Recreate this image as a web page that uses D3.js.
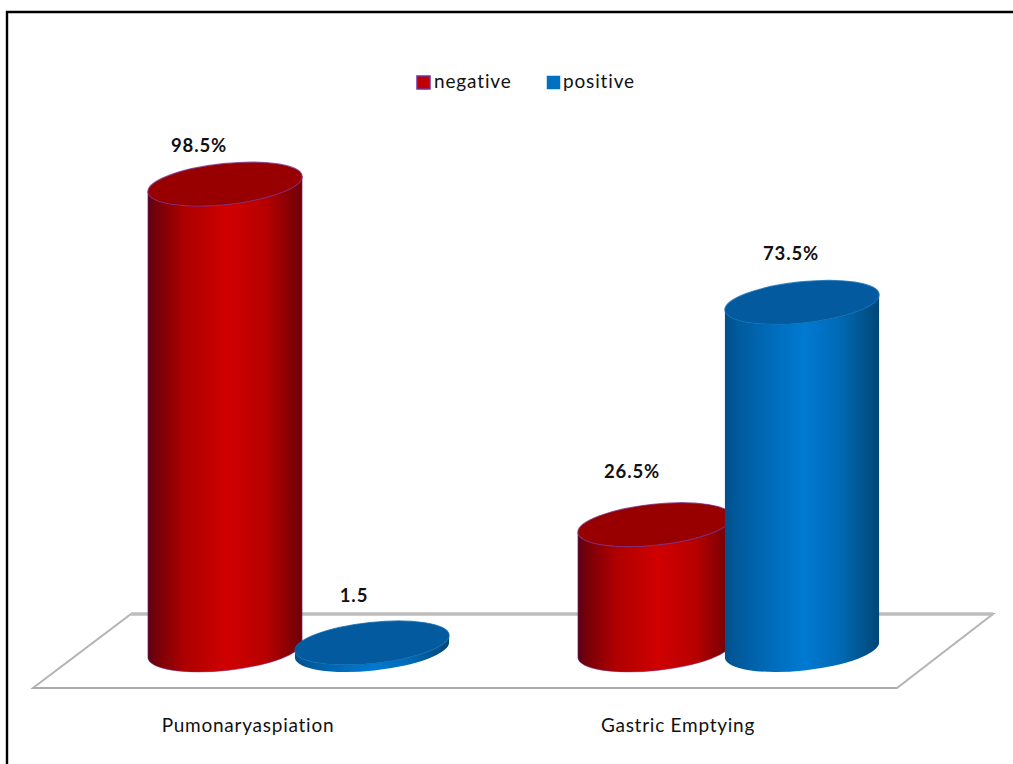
<!DOCTYPE html>
<html>
<head>
<meta charset="utf-8">
<script src="https://cdn.jsdelivr.net/npm/d3@7/dist/d3.min.js"></script>
<style>
  html, body { margin: 0; padding: 0; background: #fff; }
  svg { display: block; }
  text { font-family: Lato, "Open Sans", sans-serif; fill: #111; }
</style>
</head>
<body>
<svg id="chart" width="1013" height="764"></svg>
<script>
const categories = ["Pumonaryaspiation", "Gastric Emptying"];
const seriesNames = ["negative", "positive"];
const negativeValues = [98.5, 26.5];
const positiveValues = [1.5, 73.5];
const negativeLabels = ["98.5%", "26.5%"];
const positiveLabels = ["1.5", "73.5%"];

const width = 1013, height = 764;
const svg = d3.select("#chart");
const defs = svg.append("defs");

const palette = {
  negative: {
    stops: [[0, "#5a0018"], [0.06, "#780008"], [0.25, "#b00000"], [0.52, "#d00000"], [0.76, "#b80000"], [1, "#6e0006"]],
    top: "#980000", rim: "#7a2a80"
  },
  positive: {
    stops: [[0, "#00508c"], [0.08, "#005a9c"], [0.28, "#006ab8"], [0.52, "#007ad2"], [0.76, "#0068b2"], [1, "#004676"]],
    top: "#045a9e", rim: "#0a68b0"
  }
};

// Horizontal shading that gives each column its rounded look
seriesNames.forEach(name => {
  const grad = defs.append("linearGradient").attr("id", "body-" + name);
  palette[name].stops.forEach(([o, col]) =>
    grad.append("stop").attr("offset", o).attr("stop-color", col));
});

// Page frame: only the top and left rules are drawn
svg.append("path")
  .attr("d", d3.line()([[7, height], [7, 12], [width, 12]]))
  .attr("fill", "none").attr("stroke", "#000").attr("stroke-width", 2.4);

// Scales
const x0 = d3.scaleBand().domain(categories).range([83.5, 943.5]);
const x1 = d3.scaleBand().domain(seriesNames).range([-147, 147]);
const y = d3.scaleLinear().domain([0, 100]).range([650, 177]);

// Floor plane in oblique projection
const floorFront = y(0) + 38, floorBack = y(0) - 36;
const floorPts = [[33, floorFront], [897, floorFront], [993, floorBack], [131, floorBack]];
const floor = svg.append("g");
floor.append("path")
  .attr("d", d3.line()(floorPts) + "Z")
  .attr("fill", "#fff").attr("stroke", "#b4b4b4").attr("stroke-width", 2);
floor.append("path")
  .attr("d", d3.line()([floorPts[3], floorPts[2]]))
  .attr("fill", "none").attr("stroke", "#bdbdbd").attr("stroke-width", 3.5);
floor.append("path")
  .attr("d", d3.line()([floorPts[0], floorPts[1]]))
  .attr("fill", "none").attr("stroke", "#a8a8a8").attr("stroke-width", 1.6);

// Cylinder geometry: tilted ellipses for the caps
const rx = 77.5, ry = 20.5, tilt = -6;
const dx = rx * Math.cos(tilt * Math.PI / 180);
const dy = rx * Math.sin(tilt * Math.PI / 180);

function bodyPath(cx, yTop, yBase) {
  return `M${cx - dx},${yTop - dy}` +
    `L${cx - dx},${yBase - dy}` +
    `A${rx},${ry} ${tilt} 0 0 ${cx + dx},${yBase + dy}` +
    `L${cx + dx},${yTop + dy}` +
    `A${rx},${ry} ${tilt} 0 1 ${cx - dx},${yTop - dy}Z`;
}

const rows = [];
categories.forEach((cat, i) => {
  rows.push({ cat, series: "negative", value: negativeValues[i], label: negativeLabels[i] });
  rows.push({ cat, series: "positive", value: positiveValues[i], label: positiveLabels[i] });
});

const columns = svg.append("g").selectAll("g").data(rows).join("g")
  .attr("transform", d => `translate(${x0(d.cat) + x0.bandwidth() / 2 + x1(d.series) + x1.bandwidth() / 2},0)`);

columns.append("path")
  .attr("d", d => bodyPath(0, y(d.value), y(0)))
  .attr("fill", d => `url(#body-${d.series})`)
  .attr("stroke", d => palette[d.series].rim)
  .attr("stroke-width", d => d.series === "negative" ? 0.9 : 0)
  .attr("stroke-opacity", 0.6);

columns.append("ellipse")
  .attr("rx", rx).attr("ry", ry)
  .attr("transform", d => `translate(0,${y(d.value)}) rotate(${tilt})`)
  .attr("fill", d => palette[d.series].top)
  .attr("stroke", d => palette[d.series].rim)
  .attr("stroke-width", 1.2)
  .attr("stroke-opacity", 0.75);

// Value labels sit up and to the left of the column tops
const labelNudge = {
  "98.5%": [-26, -32], "1.5": [-18, -41], "26.5%": [-23, -47], "73.5%": [-11, -42]
};
columns.append("text")
  .attr("x", d => labelNudge[d.label][0])
  .attr("y", d => y(d.value) + labelNudge[d.label][1])
  .attr("text-anchor", "middle")
  .attr("font-size", 18.5).attr("font-weight", 700).attr("letter-spacing", 0.9)
  .text(d => d.label);

// Category labels
svg.append("g").selectAll("text").data(categories).join("text")
  .attr("x", d => x0(d) + x0.bandwidth() / 2 - 50.5)
  .attr("y", 732)
  .attr("text-anchor", "middle")
  .attr("font-size", 19).attr("letter-spacing", 0.75)
  .text(d => d);

// Legend
const legendX = [417, 547];
const legend = svg.append("g").selectAll("g").data(seriesNames).join("g")
  .attr("transform", (d, i) => `translate(${legendX[i]},76)`);
legend.append("rect")
  .attr("width", 13).attr("height", 13)
  .attr("fill", d => d === "negative" ? "#c00000" : "#0070c0")
  .attr("stroke", d => d === "negative" ? "#7030a0" : "#0070c0")
  .attr("stroke-width", d => d === "negative" ? 1.5 : 0.5);
legend.append("text")
  .attr("x", d => d === "negative" ? 17 : 16).attr("y", 12)
  .attr("font-size", 19).attr("letter-spacing", 0.85)
  .text(d => d);
</script>
</body>
</html>
